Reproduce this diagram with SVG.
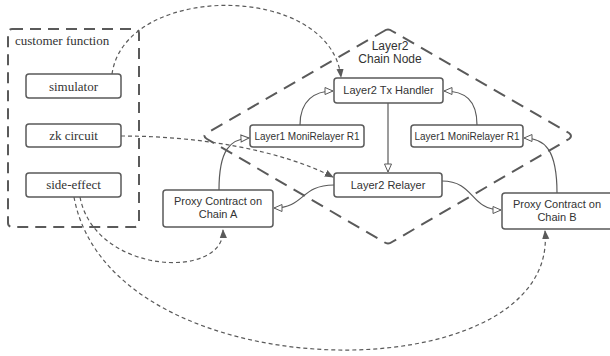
<svg xmlns="http://www.w3.org/2000/svg" width="610" height="356" viewBox="0 0 610 356">
<style>
.box{fill:#fff;stroke:#5a5a5a;stroke-width:1.5}
.sans{font-family:"Liberation Sans",Arial,sans-serif;fill:#333;text-anchor:middle}
.serif{font-family:"Liberation Serif","Times New Roman",serif;fill:#333;text-anchor:middle;font-size:13px}
.solid{fill:none;stroke:#5a5a5a;stroke-width:1.2}
.dash{fill:none;stroke:#5a5a5a;stroke-width:1.2;stroke-dasharray:4 3}
</style>
<defs>
<marker id="open" viewBox="0 0 10 10" refX="9" refY="5" markerWidth="10" markerHeight="10" markerUnits="userSpaceOnUse" orient="auto">
<path d="M1,1.5 L9,5 L1,8.5 Z" fill="#fff" stroke="#5a5a5a" stroke-width="1"/>
</marker>
<marker id="fill" viewBox="0 0 10 10" refX="9" refY="5" markerWidth="9" markerHeight="9" markerUnits="userSpaceOnUse" orient="auto">
<path d="M0,1 L10,5 L0,9 Z" fill="#5a5a5a"/>
</marker>
</defs>
<rect width="610" height="356" fill="#fff"/>
<g id="customer-function">
<rect x="8" y="29" width="131" height="198" rx="4" fill="none" stroke="#5a5a5a" stroke-width="2" stroke-dasharray="11 7"/>
<text x="15" y="45" style="font-family:'Liberation Serif','Times New Roman',serif;font-size:13px;fill:#333">customer function</text>
</g>
<g id="chain-node">
<path d="M384,31 Q388,28 392,31 L569,133 Q573,136 569,139 L392,242 Q388,245 384,242 L207,139 Q202,136 207,133 Z" fill="none" stroke="#5a5a5a" stroke-width="2" stroke-dasharray="13 8"/>
<text class="sans" x="390" y="50" font-size="12">Layer2</text>
<text class="sans" x="390" y="63" font-size="12">Chain Node</text>
</g>
<g id="connectors">
<path class="dash" d="M112,74 C125,-18 330,-18 341,77" marker-end="url(#fill)"/>
<path class="dash" d="M121,136 C200,136 280,150 333,177" marker-end="url(#fill)"/>
<path class="dash" d="M80,197 C95,275 225,280 223,230" marker-end="url(#fill)"/>
<path class="dash" d="M74,197 C110,395 560,395 545,231" marker-end="url(#fill)"/>
<path class="solid" d="M300,125 C300,100 315,91 333,91" marker-end="url(#open)"/>
<path class="solid" d="M477,125 C477,100 465,91 444,91" marker-end="url(#open)"/>
<path class="solid" d="M388,103 L388,172" marker-end="url(#open)"/>
<path class="solid" d="M334,185 C300,185 305,208 274,208" marker-end="url(#open)"/>
<path class="solid" d="M442,181 C475,181 470,210 501,210" marker-end="url(#open)"/>
<path class="solid" d="M219,190 C219,150 230,139 249,138" marker-end="url(#open)"/>
<path class="solid" d="M557,193 C557,150 545,138 524,138" marker-end="url(#open)"/>
</g>
<g id="simulator">
<rect class="box" x="26" y="74" width="95" height="24" rx="3"/>
<text class="serif" x="73.5" y="91">simulator</text>
</g>
<g id="zk-circuit">
<rect class="box" x="26" y="124" width="95" height="23" rx="3"/>
<text class="serif" x="73.5" y="140">zk circuit</text>
</g>
<g id="side-effect">
<rect class="box" x="26" y="173" width="95" height="24" rx="3"/>
<text class="serif" x="73.5" y="189">side-effect</text>
</g>
<g id="tx-handler">
<rect class="box" x="334" y="78" width="109" height="25" rx="3"/>
<text class="sans" x="388.5" y="94" font-size="11">Layer2 Tx Handler</text>
</g>
<g id="moni-left">
<rect class="box" x="250" y="125" width="114" height="22" rx="3"/>
<text class="sans" x="307" y="139.5" font-size="10">Layer1 MoniRelayer R1</text>
</g>
<g id="moni-right">
<rect class="box" x="411" y="125" width="112" height="22" rx="3"/>
<text class="sans" x="467" y="139.5" font-size="10">Layer1 MoniRelayer R1</text>
</g>
<g id="l2-relayer">
<rect class="box" x="334" y="173" width="108" height="24" rx="3"/>
<text class="sans" x="388" y="189" font-size="11">Layer2 Relayer</text>
</g>
<g id="proxy-a">
<rect class="box" x="163" y="190" width="110" height="37" rx="3"/>
<text class="sans" x="218" y="205" font-size="11">Proxy Contract on</text>
<text class="sans" x="218" y="218" font-size="11">Chain A</text>
</g>
<g id="proxy-b">
<rect class="box" x="502" y="193" width="112" height="36" rx="3"/>
<text class="sans" x="557" y="208" font-size="11">Proxy Contract on</text>
<text class="sans" x="557" y="221" font-size="11">Chain B</text>
</g>
</svg>
